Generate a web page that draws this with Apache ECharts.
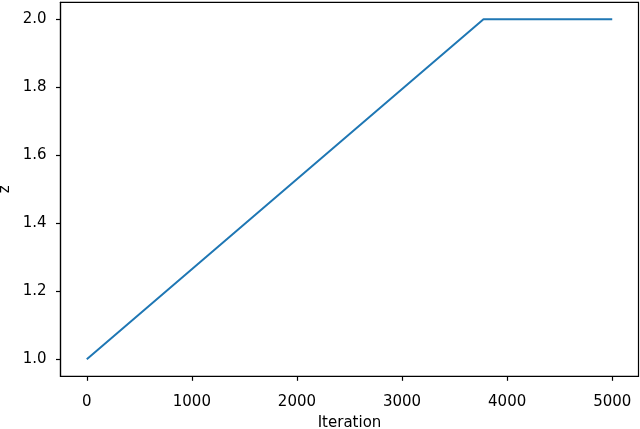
<!DOCTYPE html>
<html>
<head>
<meta charset="utf-8">
<script src="https://cdn.jsdelivr.net/npm/echarts@6/dist/echarts.min.js"></script>
<style>
  html, body { margin: 0; padding: 0; background: #fff; }
  #chart { width: 640px; height: 429px; }
</style>
</head>
<body>
<div id="chart"></div>
<script>
// z over iterations: linear ramp then flat
const iterations = [0, 3775, 5000];
const zValues = [1.0, 2.0, 2.0];
const xTicks = [0, 1000, 2000, 3000, 4000, 5000];
const yTicks = [1.0, 1.2, 1.4, 1.6, 1.8, 2.0];

const font = 'DejaVu Sans';
const axisLine = { show: true, onZero: false, lineStyle: { color: '#000', width: 1.2 } };
const axisTickCfg = (vals) => ({ show: true, length: 4.5, inside: false, customValues: vals, lineStyle: { color: '#000', width: 1.2 } });

const chart = echarts.init(document.getElementById('chart'), null, { renderer: 'canvas' });
chart.setOption({
  animation: false,
  backgroundColor: '#fff',
  grid: {
    left: 60.5, right: 1.5, top: 2.3, bottom: 52.7,
    outerBoundsMode: 'none',
    containLabel: false,
    show: true, borderColor: '#000', borderWidth: 1.2, backgroundColor: 'transparent'
  },
  xAxis: {
    type: 'value',
    min: -250, max: 5250,
    name: 'Iteration',
    nameLocation: 'middle',
    nameGap: 39,
    nameMoveOverlap: false,
    nameTextStyle: { fontFamily: font, fontSize: 15, color: '#000' },
    axisLine: axisLine,
    axisTick: axisTickCfg(xTicks),
    axisLabel: {
      customValues: xTicks, margin: 18, fontFamily: font, fontSize: 15, color: '#000',
      formatter: (v) => String(v)
    },
    splitLine: { show: false }
  },
  yAxis: {
    type: 'value',
    min: 0.95, max: 2.05,
    name: 'z',
    nameLocation: 'middle',
    nameGap: 48,
    nameMoveOverlap: false,
    nameRotate: 90,
    nameTextStyle: { fontFamily: font, fontSize: 15, color: '#000' },
    axisLine: axisLine,
    axisTick: axisTickCfg(yTicks),
    axisLabel: {
      customValues: yTicks, margin: 14, fontFamily: font, fontSize: 15, color: '#000',
      formatter: (v) => v.toFixed(1)
    },
    splitLine: { show: false }
  },
  series: [{
    type: 'line',
    data: iterations.map((x, i) => [x, zValues[i]]),
    showSymbol: false,
    lineStyle: { color: '#1f77b4', width: 2 },
    itemStyle: { color: '#1f77b4' }
  }]
});
</script>
</body>
</html>
